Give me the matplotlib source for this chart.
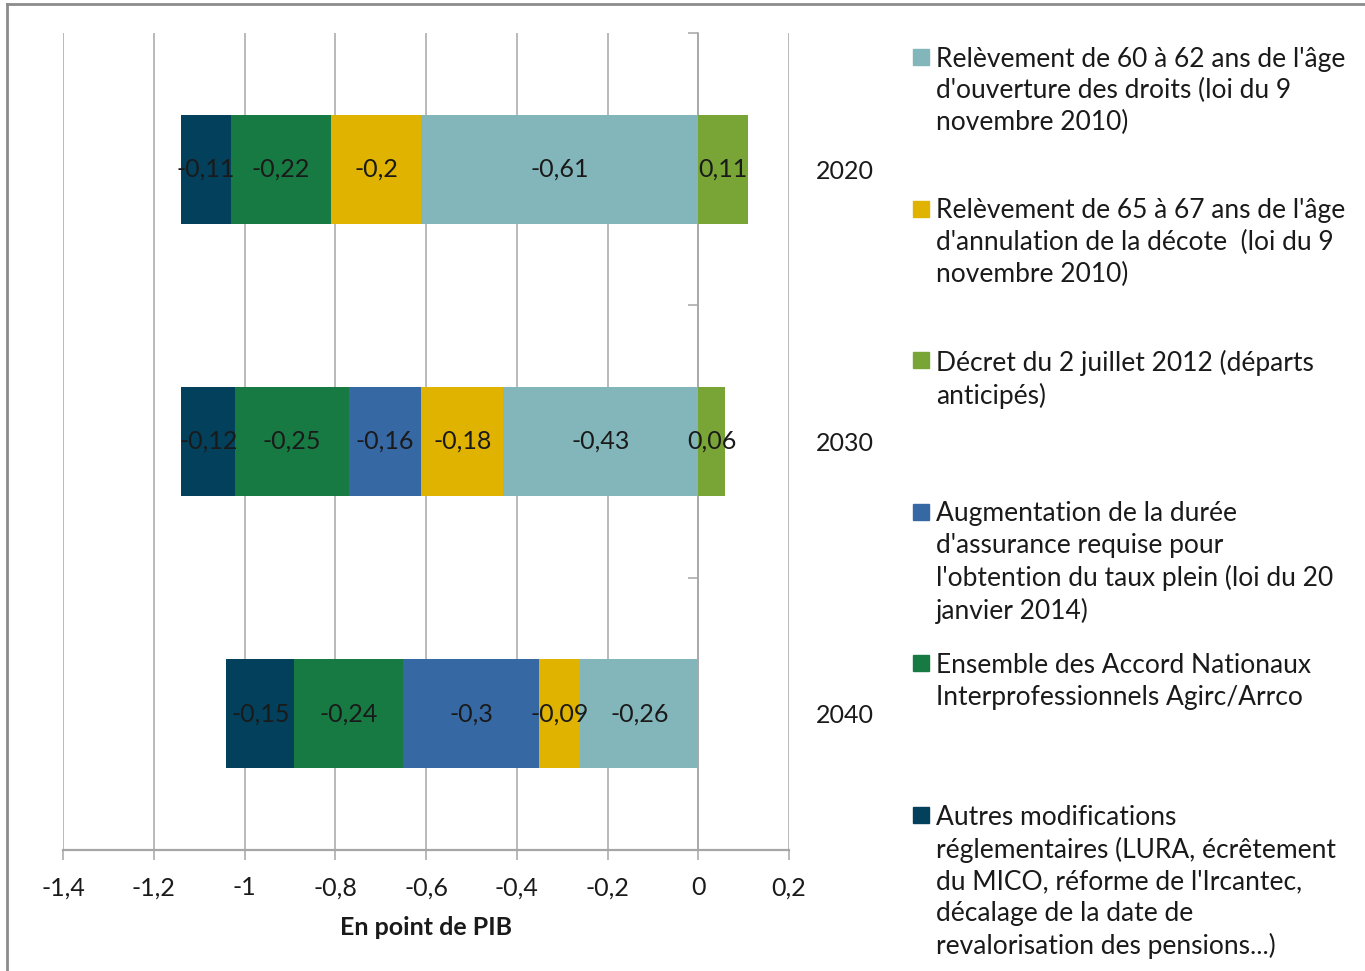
import matplotlib
matplotlib.use("Agg")
import matplotlib.pyplot as plt
from matplotlib.patches import Rectangle
from matplotlib.lines import Line2D
from matplotlib.ticker import FuncFormatter, FixedLocator

plt.rcParams["font.family"] = ["Lato", "DejaVu Sans"]

# data (point de PIB)
years = ["2020", "2030", "2040"]
age_ouverture = [-0.61, -0.43, -0.26]
age_annulation = [-0.20, -0.18, -0.09]
duree_assurance = [0.0, -0.16, -0.30]
agirc_arrco = [-0.22, -0.25, -0.24]
autres = [-0.11, -0.12, -0.15]
decret_2012 = [0.11, 0.06, 0.0]

LABELS = {
    "age_ouverture": "Relèvement de 60 à 62 ans de l'âge\nd'ouverture des droits (loi du 9\nnovembre 2010)",
    "age_annulation": "Relèvement de 65 à 67 ans de l'âge\nd'annulation de la décote  (loi du 9\nnovembre 2010)",
    "decret_2012": "Décret du 2 juillet 2012 (départs\nanticipés)",
    "duree_assurance": "Augmentation de la durée\nd'assurance requise pour\nl'obtention du taux plein (loi du 20\njanvier 2014)",
    "agirc_arrco": "Ensemble des Accord Nationaux\nInterprofessionnels Agirc/Arrco",
    "autres": "Autres modifications\nréglementaires (LURA, écrêtement\ndu MICO, réforme de l'Ircantec,\ndécalage de la date de\nrevalorisation des pensions...)",
}

TEAL = "#83b6ba"
YELLOW = "#dfb300"
OLIVE = "#79a436"
BLUE = "#3669a4"
GREEN = "#177a42"
NAVY = "#02405c"
GRID = "#a6a6a6"
INK = "#1a1a1a"


def fr(v):
    v = round(v, 2) + 0.0
    return f"{v:g}".replace(".", ",")


fig = plt.figure(figsize=(13.65, 9.71), dpi=100)
ax = fig.add_axes([63 / 1365, 1 - 850 / 971, 726 / 1365, 817 / 971])

ypos = list(range(len(years)))
# negatives stack leftwards from zero, in this order
neg_series = [age_ouverture, age_annulation, duree_assurance, agirc_arrco, autres]
neg_colors = [TEAL, YELLOW, BLUE, GREEN, NAVY]
left = [0.0] * len(years)
for vals, col in zip(neg_series, neg_colors):
    bars = ax.barh(ypos, vals, left=left, height=0.4, color=col, zorder=3)
    ax.bar_label(bars, labels=[fr(v) if v else "" for v in vals],
                 label_type="center", fontsize=18, color=INK, zorder=6)
    left = [l + v for l, v in zip(left, vals)]
bars = ax.barh(ypos, decret_2012, height=0.4, color=OLIVE, zorder=3)
ax.bar_label(bars, labels=[fr(v) if v else "" for v in decret_2012],
             label_type="center", fontsize=18, color=INK, zorder=6)

ax.set_xlim(-1.4, 0.2)
ax.set_ylim(2.5, -0.5)
ax.set_xticks([-1.4 + 0.2 * i for i in range(9)])
ax.xaxis.set_major_formatter(FuncFormatter(lambda x, _: fr(x)))
ax.grid(axis="x", color=GRID, linewidth=1.1, zorder=0)
ax.set_axisbelow(True)

for s in ("top", "right"):
    ax.spines[s].set_visible(False)
ax.spines["bottom"].set_color(GRID)
ax.spines["bottom"].set_linewidth(1.6)
ax.spines["left"].set_position(("data", 0))
ax.spines["left"].set_color(GRID)
ax.spines["left"].set_linewidth(1.1)

ax.tick_params(axis="x", colors=GRID, labelcolor=INK, labelsize=18,
               length=7, width=1.1, pad=12)
ax.yaxis.set_major_locator(FixedLocator([-0.5, 0.5, 1.5, 2.5]))
ax.yaxis.set_minor_locator(FixedLocator(ypos))
ax.yaxis.set_minor_formatter(FuncFormatter(lambda y, _: years[int(round(y))]))
ax.tick_params(axis="y", which="major", left=True, labelleft=False,
               length=7, color=GRID, width=1.1)
ax.tick_params(axis="y", which="minor", left=False, right=False,
               labelleft=False, labelright=True, labelsize=18,
               labelcolor=INK, pad=17)

ax.set_xlabel("En point de PIB", fontsize=18, fontweight="bold", color=INK, labelpad=12)

# legend, evenly spaced entries on the right
entries = [
    (TEAL, LABELS["age_ouverture"]),
    (YELLOW, LABELS["age_annulation"]),
    (OLIVE, LABELS["decret_2012"]),
    (BLUE, LABELS["duree_assurance"]),
    (GREEN, LABELS["agirc_arrco"]),
    (NAVY, LABELS["autres"]),
]
W, H = 1365, 971
for i, (col, text) in enumerate(entries):
    yc = 57 + 151.6 * i
    fig.add_artist(Rectangle((913 / W, 1 - (yc + 8) / H), 16 / W, 16 / H,
                             transform=fig.transFigure, color=col))
    fig.text(936 / W, 1 - (yc - 10.5) / H, text, fontsize=19, color=INK,
             va="top", ha="left", linespacing=1.33)

# outer chart frame (only top and left visible in the crop)
fig.add_artist(Line2D([7 / W, 1], [1 - 4 / H, 1 - 4 / H], transform=fig.transFigure,
                      color="#8c8c8c", linewidth=2))
fig.add_artist(Line2D([7 / W, 7 / W], [0, 1 - 4 / H], transform=fig.transFigure,
                      color="#8c8c8c", linewidth=2))

fig.savefig("out.png", dpi=100, facecolor="white")
